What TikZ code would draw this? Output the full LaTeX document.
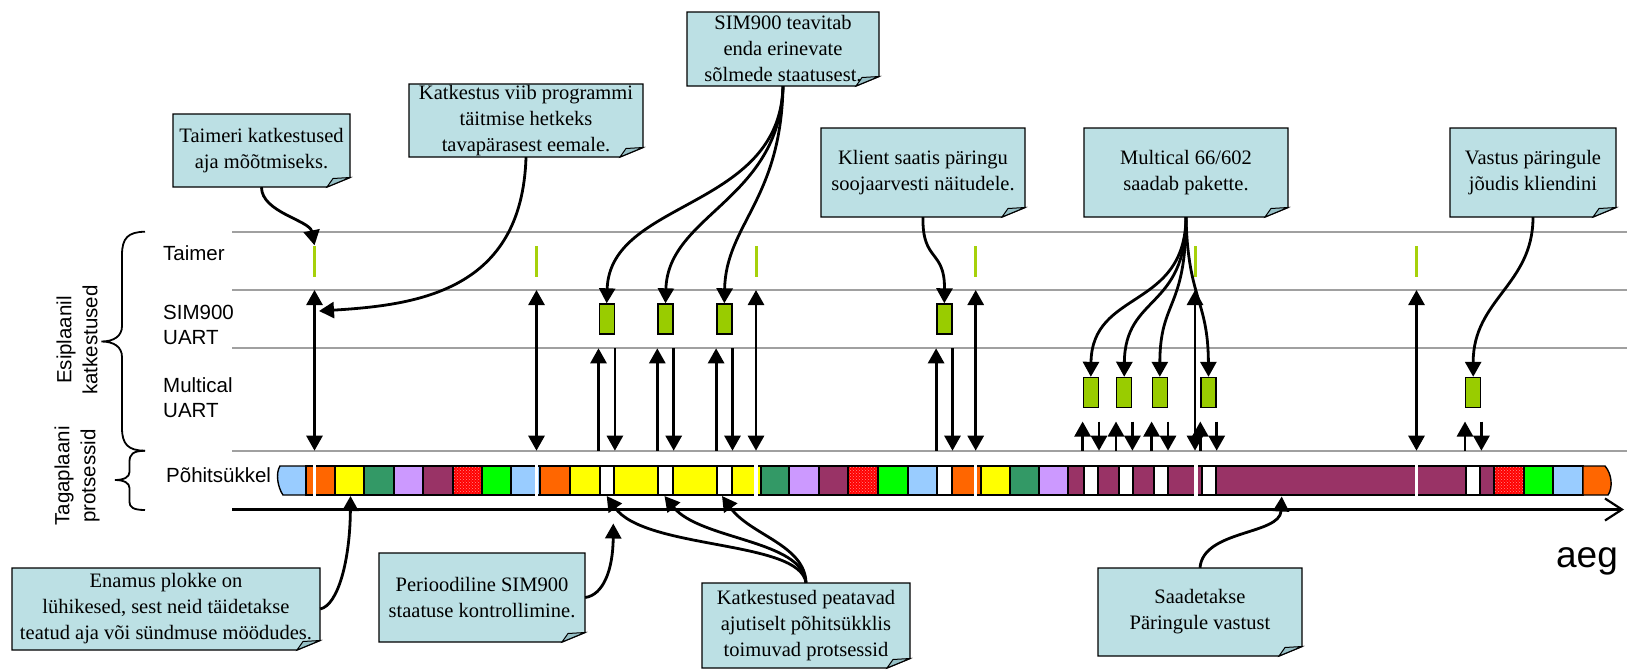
\documentclass[tikz,border=0pt]{standalone}
\usepackage{fontspec}
\setmainfont{Liberation Serif}
\setsansfont{Liberation Sans}
\usetikzlibrary{arrows.meta,patterns}
\definecolor{notebg}{RGB}{188,224,228}
\definecolor{notefold}{RGB}{150,192,198}
\definecolor{cLB}{HTML}{99CCFF}
\definecolor{cOR}{HTML}{FF6600}
\definecolor{cYE}{HTML}{FFFF00}
\definecolor{cDG}{HTML}{339966}
\definecolor{cLV}{HTML}{CC99FF}
\definecolor{cMA}{HTML}{993366}
\definecolor{cRE}{HTML}{FF0000}
\definecolor{cGR}{HTML}{00FF00}
\definecolor{cWH}{HTML}{FFFFFF}
\definecolor{ticky}{HTML}{A6D10A}
\definecolor{evbox}{HTML}{99CC00}
\definecolor{gline}{HTML}{A0A0A0}
\tikzset{
  notetxt/.style={font=\fontsize{20.5}{26}\selectfont, align=center, inner sep=0pt},
  notebd/.style={draw=black, line width=1.4pt, line join=miter},
  rowlbl/.style={font=\sffamily\fontsize{20.5}{25}\selectfont, align=left, anchor=west, inner sep=0pt},
  grayln/.style={draw=gline, line width=1.8pt},
  con/.style={draw=black, line width=2.8pt, -{Triangle[width=16pt,length=15pt]}},
  dbl/.style={draw=black, line width=2.8pt, {Triangle[width=16pt,length=15pt]}-{Triangle[width=16pt,length=15pt]}},
  blk/.style={draw=black, line width=1.4pt},
  tickmark/.style={fill=ticky, minimum width=3pt, minimum height=31pt, inner sep=0pt, draw=none},
  evt/.style={fill=evbox, draw=black, line width=1.4pt, minimum width=15pt, minimum height=30pt, inner sep=0pt},
}
\newcommand\mynote[6]{%
  \path[fill=notebg, notebd] (#2,#3) -- (#4,#3) -- (#4,{#5-9.5}) -- ({#4-23},#5) -- (#2,#5) -- cycle;
  \path[fill=notefold, notebd, line width=1pt] ({#4-23},#5) -- ({#4-17},{#5-8.5}) -- (#4,{#5-9.5}) -- cycle;
  \node[notetxt, minimum width={#4-#2}, minimum height={#5-#3}] (#1) at ({(#2+#4)/2},{(#3+#5)/2}) {#6};
}
\begin{document}
\begin{tikzpicture}[x=1pt,y=-1pt]
\useasboundingbox (0,0) rectangle (1644,670);
% gray lines
\coordinate (L1) at (232,232);
\coordinate (L2) at (232,290);
\coordinate (L3) at (232,348.3);
\coordinate (L4) at (232,450.7);
\coordinate (L5) at (232,421.5);
\coordinate (R1) at (1627,232);
\coordinate (R2) at (1627,290);
\coordinate (R3) at (1627,348.3);
\coordinate (R4) at (1627,450.7);
\draw[grayln] (L1) -- (R1);
\draw[grayln] (L2) -- (R2);
\draw[grayln] (L3) -- (R3);
\draw[grayln] (L4) -- (R4);
% axis
\coordinate (ax0) at (232,509.5);
\coordinate (ax1) at (1624,509.5);
\draw[line width=2.2pt, -{Straight Barb[length=17pt,width=22pt]}] (ax0) -- (ax1);
\node[font=\sffamily\fontsize{37}{40}\selectfont, anchor=base, inner sep=0pt] (aeg) at (1587,567) {aeg};
% braces
\draw[line width=1.8pt] (145,231.7) .. controls (128,232) and (122,238) .. (122,255) -- (122,326) .. controls (122,336) and (114,341.5) .. (101.5,341.5) .. controls (114,341.5) and (122,347) .. (122,357) -- (122,428) .. controls (122,444) and (128,450.7) .. (145,450.7);
\draw[line width=1.8pt] (145,450.7) .. controls (133,451) and (129.5,454) .. (129.5,462) -- (129.5,472) .. controls (129.5,477) and (124,480) .. (115,480) .. controls (124,480) and (129.5,483) .. (129.5,488) -- (129.5,502) .. controls (129.5,507) and (133,510) .. (145,510);
\node[font=\sffamily\fontsize{20.5}{26}\selectfont, align=center, rotate=90, inner sep=0pt] (esi) at (77,340) {Esiplaanil\\katkestused};
\node[font=\sffamily\fontsize{20.5}{26}\selectfont, align=center, rotate=90, inner sep=0pt] (tag) at (77,476) {Tagaplaani\\protsessid};
% row labels
\node[rowlbl] (lt) at (163,253) {Taimer};
\node[rowlbl] (ls) at (163,324.5) {SIM900\\UART};
\node[rowlbl] (lm) at (163,397.5) {Multical\\UART};
\node[rowlbl] (lp) at (166,475.5) {Põhitsükkel};
% strip
\path[blk, fill=cLB] (280,466) .. controls (275.5,473) and (277.5,487) .. (283,495) -- (306,495) -- (306,466) -- cycle;
\foreach \a/\b/\c in {306/335/cOR,335/364/cYE,364/394/cDG,394/423/cLV,423/453/cMA,453/482/cRE,482/511/cGR,511/540/cLB,540/570/cOR,570/600/cYE,600/614/cWH,614/658/cYE,658/673/cWH,673/717/cYE,717/732/cWH,732/761/cYE,761/789/cDG,789/819/cLV,819/848/cMA,848/878/cRE,878/908/cGR,908/937/cLB,937/952/cWH,952/981/cOR,981/1010/cYE,1010/1039/cDG,1039/1068/cLV,1068/1084/cMA,1084/1098/cWH,1098/1119/cMA,1119/1133/cWH,1133/1154/cMA,1154/1168/cWH,1168/1202/cMA,1202/1216/cWH,1216/1466/cMA,1466/1480/cWH,1480/1494/cMA,1494/1524/cRE,1524/1553/cGR,1553/1583/cLB}
  \path[blk, fill=\c] (\a,466) rectangle (\b,495);
\foreach \a/\b in {453/482,848/878,1494/1524}{
  \fill[pattern=crosshatch dots, pattern color=white!55!red] (\a,466) rectangle (\b,495);
  \draw[blk] (\a,466) rectangle (\b,495);
}
\path[blk, fill=cOR] (1583,466) -- (1605,466) .. controls (1612,474) and (1613,488) .. (1608,495) -- (1583,495) -- cycle;
\foreach \x in {314.5,536.5,756,975.7,1196,1416.5}
  \fill[white] ({\x-1.6},463.5) rectangle ({\x+1.6},497.5);
% timer ticks and arrows
\foreach \i/\x in {1/314.5,2/536.5,3/756,4/975.7,5/1195,6/1416.5}
  \node[tickmark] (t\i) at (\x,261) {};
\foreach \i in {1,...,6}
  \draw[dbl] (t\i |- L2) -- (t\i |- L4);
% SIM900 events
\foreach \i/\x in {1/606.7,2/665.5,3/724.3,4/944.3}
  \node[evt] (s\i) at (\x,319) {};
\foreach \i in {1,...,4}{
  \draw[con] (s\i.south west |- L4) -- (s\i.south west |- L3);
  \draw[con] (s\i.south east |- L3) -- (s\i.south east |- L4);
}
% Multical events
\foreach \i/\x in {1/1090.8,2/1124.2,3/1159.8,4/1208.5,5/1473.2}
  \node[evt] (m\i) at (\x,392.5) {};
\foreach \i in {1,...,5}{
  \draw[con] (m\i.south west |- L4) -- (m\i.south west |- L5);
  \draw[con] (m\i.south east |- L5) -- (m\i.south east |- L4);
}
% callouts
\mynote{ta}{173}{114}{350}{187}{Taimeri katkestused\\aja mõõtmiseks.}
\mynote{kv}{409}{84}{643}{157}{Katkestus viib programmi\\täitmise hetkeks\\tavapärasest eemale.}
\mynote{st}{687}{12}{879}{86}{SIM900 teavitab\\enda erinevate\\sõlmede staatusest.}
\mynote{kl}{821}{128}{1025}{217}{Klient saatis päringu\\soojaarvesti näitudele.}
\mynote{mu}{1084}{128}{1288}{217}{Multical 66/602\\saadab pakette.}
\mynote{va}{1450}{128}{1616}{217}{Vastus päringule\\jõudis kliendini}
\mynote{en}{12}{568}{320}{650}{Enamus plokke on\\lühikesed, sest neid täidetakse\\teatud aja või sündmuse möödudes.}
\mynote{pe}{379}{553}{585}{642}{Perioodiline SIM900\\staatuse kontrollimine.}
\mynote{kp}{702}{583}{910}{668}{Katkestused peatavad\\ajutiselt põhitsükklis\\toimuvad protsessid}
\mynote{sa}{1098}{568}{1302}{656}{Saadetakse\\Päringule vastust}
% connector targets
\coordinate (kvend) at (319,311);
\coordinate (e1) at (350.5,496);
\coordinate (p1) at (613.3,523.5);
\coordinate (w1) at (606.7,496);
\coordinate (w2) at (664.5,496);
\coordinate (w3) at (722,496);
\coordinate (sv) at (1281.7,496.5);
% curved connectors
\draw[con] (ta.south) .. controls +(0,25) and +(-5,-25) .. (t1.north);
\draw[con] (kv.south) .. controls +(-4,133) and +(100,-6) .. (kvend);
\draw[con] (st.south) .. controls +(-3,124) and +(3.3,-104) .. (s1.north);
\draw[con] (st.south) .. controls +(-3,114) and +(2.5,-89) .. (s2.north);
\draw[con] (st.south) .. controls +(-2,114) and +(1.7,-79) .. (s3.north);
\draw[con] (kl.south) .. controls +(-1,45) and +(0.7,-54) .. (s4.north);
\draw[con] (mu.south) .. controls +(-1,93) and +(1.2,-87.7) .. (m1.north);
\draw[con] (mu.south) .. controls +(0,93) and +(0.8,-82.7) .. (m2.north);
\draw[con] (mu.south) .. controls +(0,93) and +(0.2,-77.7) .. (m3.north);
\draw[con] (mu.south) .. controls +(2,83) and +(-0.5,-77.7) .. (m4.north);
\draw[con] (va.south) .. controls +(0,68) and +(-0.2,-77.7) .. (m5.north);
\draw[con] (en.east) .. controls +(18,-4) and +(-0.5,64) .. (e1);
\draw[con] (pe.east) .. controls +(18,-2.5) and +(-0.3,46.5) .. (p1);
\draw[con] (kp.north) .. controls +(-6,-43) and +(38.3,54) .. (w1);
\draw[con] (kp.north) .. controls +(-3,-43) and +(35.5,44) .. (w2);
\draw[con] (kp.north) .. controls +(-1,-38) and +(28,39) .. (w3);
\draw[con] (sa.north) .. controls +(3,-38) and +(-1.7,38.5) .. (sv);
\end{tikzpicture}
\end{document}
